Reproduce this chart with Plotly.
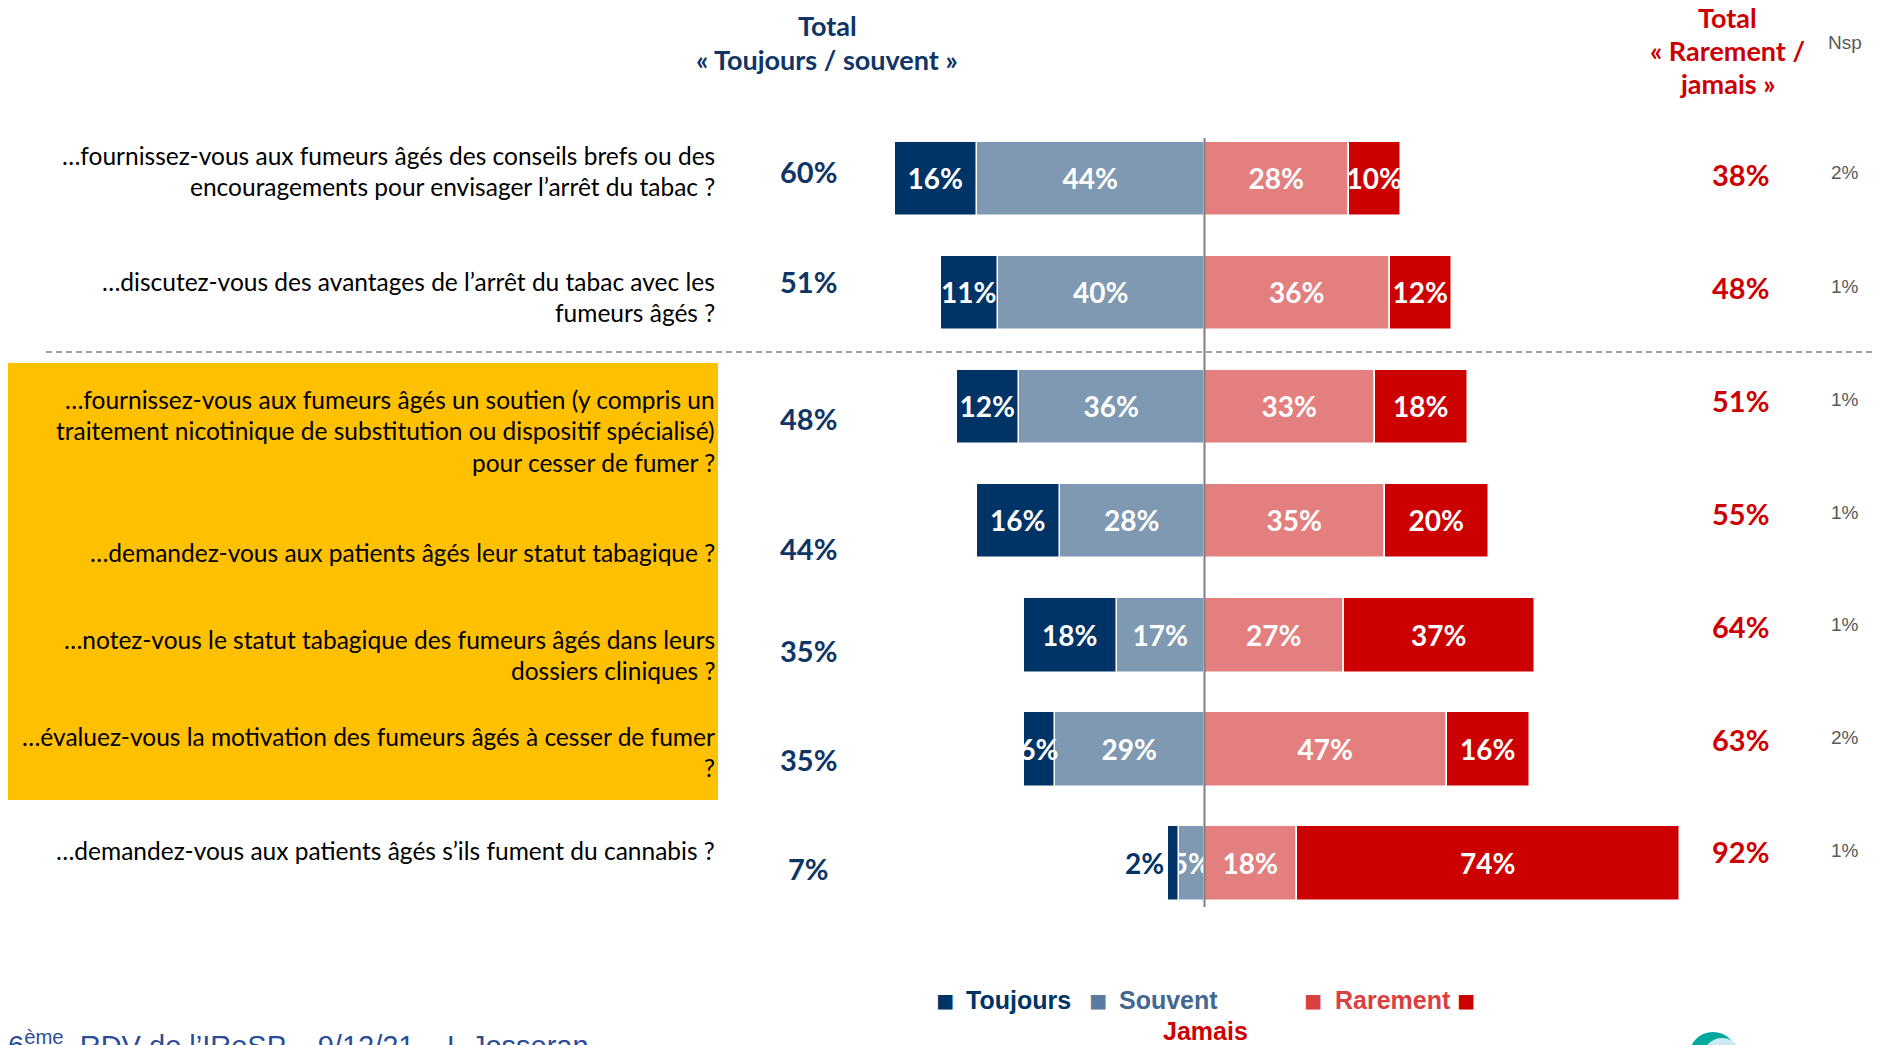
import plotly.graph_objects as go

W, H = 1883, 1045          # browser window
OFF = 8                    # default page body margin
WF, HF = W - OFF, H - OFF  # figure size so it fits exactly in the window

# ---------------- data ----------------
question_lines = [
    ["…fournissez-vous aux fumeurs âgés des conseils brefs ou des",
     "encouragements pour envisager l’arrêt du tabac ?"],
    ["…discutez-vous des avantages de l’arrêt du tabac avec les",
     "fumeurs âgés ?"],
    ["…fournissez-vous aux fumeurs âgés un soutien (y compris un",
     "traitement nicotinique de substitution ou dispositif spécialisé)",
     "pour cesser de fumer ?"],
    ["…demandez-vous aux patients âgés leur statut tabagique ?"],
    ["…notez-vous le statut tabagique des fumeurs âgés dans leurs",
     "dossiers cliniques ?"],
    ["…évaluez-vous la motivation des fumeurs âgés à cesser de fumer",
     "?"],
    ["…demandez-vous aux patients âgés s’ils fument du cannabis ?"],
]
toujours = [16, 11, 12, 16, 18, 6, 2]
souvent = [44, 40, 36, 28, 17, 29, 5]
rarement = [28, 36, 33, 35, 27, 47, 18]
jamais = [10, 12, 18, 20, 37, 16, 74]
total_ts = [60, 51, 48, 44, 35, 35, 7]
total_rj = [38, 48, 51, 55, 64, 63, 92]
nsp = [2, 1, 1, 1, 1, 2, 1]

# ---------------- style / layout constants ----------------
NAVY = "#003366"
SOUV = "#7F99B2"
RAR = "#E47F7F"
JAM = "#CC0000"
TOT_BLUE = "#0F3566"
RED = "#CC0000"
GRAY = "#595959"
FONT = "Lato"

PX_PER_PCT = 5.165
X0_PX = 1204.5
ROW0_PX = 178.9
ROW_STEP = 114.1

rows = list(range(len(toujours)))

# vertical positions (screen px)
label_line_y = [[155, 186], [281, 312], [399, 430, 462], [552], [639, 670], [736, 767], [850]]
total_ts_y = [172, 281, 418, 548, 650, 759, 868]
total_rj_y = [174, 287, 400, 513, 626, 739, 851]
nsp_y = [173, 286, 399, 512, 624, 737, 850]


def px(x):
    return (x - OFF) / WF


def py(y):
    return 1 - (y - OFF) / HF


def pos(vals):
    return ["outside" if v < 3 else "inside" for v in vals]


fig = go.Figure()

common = dict(orientation="h", y=rows, width=0.653, cliponaxis=False,
              textangle=0, constraintext="none", insidetextanchor="middle",
              hoverinfo="skip",
              insidetextfont=dict(family=FONT, size=28, color="white", weight="bold"),
              outsidetextfont=dict(family=FONT, size=28, color=NAVY, weight="bold"))

fig.add_trace(go.Bar(name="Souvent", x=[-v for v in souvent], text=[f"{v}%" for v in souvent],
                     textposition=pos(souvent),
                     marker=dict(color=SOUV, line=dict(color="white", width=1.5)), **common))
fig.add_trace(go.Bar(name="Toujours", x=[-v for v in toujours], text=[f"{v}%" for v in toujours],
                     textposition=pos(toujours),
                     marker=dict(color=NAVY, line=dict(color="white", width=1.5)), **common))
fig.add_trace(go.Bar(name="Rarement", x=rarement, text=[f"{v}%" for v in rarement],
                     textposition=pos(rarement),
                     marker=dict(color=RAR, line=dict(color="white", width=1.5)), **common))
fig.add_trace(go.Bar(name="Jamais", x=jamais, text=[f"{v}%" for v in jamais],
                     textposition=pos(jamais),
                     marker=dict(color=JAM, line=dict(color="white", width=1.5)), **common))

ann = []
# question labels
for lines, ys in zip(question_lines, label_line_y):
    for t, yy in zip(lines, ys):
        ann.append(dict(x=px(717), y=py(yy), xref="paper", yref="paper", text=t,
                        xanchor="right", yanchor="middle", showarrow=False,
                        font=dict(family=FONT, size=24.5, color="black")))
# totals
for v, yy in zip(total_ts, total_ts_y):
    ann.append(dict(x=px(808), y=py(yy), xref="paper", yref="paper", text=f"{v}%",
                    xanchor="center", yanchor="middle", showarrow=False,
                    font=dict(family=FONT, size=29, color=TOT_BLUE, weight="bold")))
for v, yy in zip(total_rj, total_rj_y):
    ann.append(dict(x=px(1740), y=py(yy), xref="paper", yref="paper", text=f"{v}%",
                    xanchor="center", yanchor="middle", showarrow=False,
                    font=dict(family=FONT, size=29, color=RED, weight="bold")))
for v, yy in zip(nsp, nsp_y):
    ann.append(dict(x=px(1845), y=py(yy), xref="paper", yref="paper", text=f"{v}%",
                    xanchor="center", yanchor="middle", showarrow=False,
                    font=dict(family="Liberation Sans", size=19, color=GRAY)))

# headers
for t, yy in [("Total", 25), ("« Toujours / souvent »", 60)]:
    ann.append(dict(x=px(827), y=py(yy), xref="paper", yref="paper", text=t,
                    xanchor="center", yanchor="middle", showarrow=False,
                    font=dict(family=FONT, size=27, color=TOT_BLUE, weight="bold")))
for t, yy in [("Total", 18), ("« Rarement /", 50), ("jamais »", 84)]:
    ann.append(dict(x=px(1727), y=py(yy), xref="paper", yref="paper", text=t,
                    xanchor="center", yanchor="middle", showarrow=False,
                    font=dict(family=FONT, size=27, color=RED, weight="bold")))
ann.append(dict(x=px(1845), y=py(43), xref="paper", yref="paper", text="Nsp",
                xanchor="center", yanchor="middle", showarrow=False,
                font=dict(family="Liberation Sans", size=19, color=GRAY)))

# legend (custom layout as in the original)
LEGF = "Liberation Sans Narrow, Arial Narrow, Liberation Sans"
leg_items = [
    ("■", 934, NAVY, 30), ("Toujours", 964, NAVY, 25),
    ("■", 1087, "#5A7BA0", 30), ("Souvent", 1117, "#44678F", 25),
    ("■", 1302, "#D94040", 30), ("Rarement", 1333, "#D94040", 25),
    ("■", 1455, JAM, 30),
]
for t, xx, c, s in leg_items:
    ann.append(dict(x=px(xx), y=py(1000), xref="paper", yref="paper", text=t,
                    xanchor="left", yanchor="middle", showarrow=False,
                    font=dict(family=LEGF, size=s, color=c, weight="bold")))
ann.append(dict(x=px(1205), y=py(1031), xref="paper", yref="paper", text="Jamais",
                xanchor="center", yanchor="middle", showarrow=False,
                font=dict(family=LEGF, size=25, color=JAM, weight="bold")))

# footer (cut by the bottom edge, as in the original)
ann.append(dict(x=px(6), y=py(1043.5), xref="paper", yref="paper",
                text="6<sup>ème</sup>  RDV de l’IReSP – 9/12/21 – I. Josseran",
                xanchor="left", yanchor="middle", showarrow=False,
                font=dict(family="Liberation Sans", size=29, color="#2B4C9B")))

shapes = [
    # yellow highlight box
    dict(type="rect", xref="paper", yref="paper", x0=px(5), x1=px(718), y0=py(363), y1=py(800),
         fillcolor="#FFC000", line=dict(width=0), layer="below"),
    # dashed separator
    dict(type="line", xref="paper", yref="paper", x0=px(46), x1=1, y0=py(352), y1=py(352),
         line=dict(color="#808080", width=1.5, dash="6px,4px"), layer="above"),
    # center line
    dict(type="line", xref="x", yref="paper", x0=0, x1=0, y0=py(138), y1=py(907),
         line=dict(color="#7F7F7F", width=2), layer="above"),
    # logo fragment
    dict(type="circle", xref="paper", yref="paper", x0=px(1689), x1=px(1737), y0=py(1032), y1=py(1080),
         fillcolor="#00A99D", line=dict(width=0)),
    dict(type="circle", xref="paper", yref="paper", x0=px(1703), x1=px(1741), y0=py(1038), y1=py(1076),
         fillcolor="#CDEAF2", line=dict(width=0)),
]

fig.update_layout(
    width=WF, height=HF,
    margin=dict(l=0, r=0, t=0, b=0),
    paper_bgcolor="white", plot_bgcolor="white",
    barmode="relative", bargap=0,
    showlegend=False,
    xaxis=dict(range=[(OFF - X0_PX) / PX_PER_PCT, (W - X0_PX) / PX_PER_PCT],
               visible=False, fixedrange=True),
    yaxis=dict(range=[(H - ROW0_PX) / ROW_STEP, (OFF - ROW0_PX) / ROW_STEP],
               visible=False, fixedrange=True),
    annotations=ann,
    shapes=shapes,
)

fig.write_html("out.html")
